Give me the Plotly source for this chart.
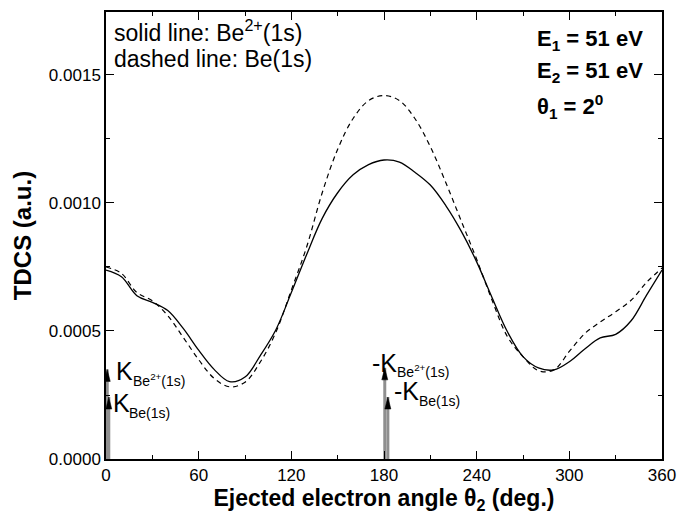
import plotly.graph_objects as go

theta = list(range(0, 361, 10))
tdcs_be2 = [0.000738, 0.000712, 0.000638, 0.000612, 0.000580, 0.000510, 0.000425, 0.000350, 0.000302, 0.000320,
            0.000405, 0.000505, 0.000650, 0.000800, 0.000940, 0.001040, 0.001110, 0.001150, 0.001168, 0.001160,
            0.001120, 0.001070, 0.000990, 0.000890, 0.000770, 0.000630, 0.000496, 0.000400, 0.000356, 0.000348,
            0.000380, 0.000430, 0.000473, 0.000487, 0.000540, 0.000640, 0.000738]
tdcs_be = [0.000750, 0.000725, 0.000650, 0.000618, 0.000560, 0.000475, 0.000388, 0.000315, 0.000282, 0.000300,
           0.000380, 0.000495, 0.000660, 0.000830, 0.001040, 0.001210, 0.001330, 0.001400, 0.001420, 0.001400,
           0.001330, 0.001220, 0.001080, 0.000930, 0.000780, 0.000620, 0.000477, 0.000400, 0.000345, 0.000348,
           0.000420, 0.000490, 0.000535, 0.000575, 0.000620, 0.000690, 0.000746]

# momentum-direction arrows (angle in deg., tip height in a.u.)
arrow_x = [0.8, 1.8, 180.5, 182.5]
arrow_h = [0.000350, 0.000242, 0.000356, 0.000242]

font = "Liberation Sans, Arial, sans-serif"

fig = go.Figure()
fig.add_trace(go.Scatter(x=theta, y=tdcs_be2, mode="lines",
                         line=dict(color="black", width=1.3, shape="spline", smoothing=1.0),
                         showlegend=False))
fig.add_trace(go.Scatter(x=theta, y=tdcs_be, mode="lines",
                         line=dict(color="black", width=1.2, dash="5px,4px", shape="spline", smoothing=1.0),
                         showlegend=False))

shapes = []
for xv, hv in zip(arrow_x, arrow_h):
    fig.add_trace(go.Scatter(x=[xv, xv], y=[0, hv], mode="lines",
                             line=dict(color="#8f8f8f", width=3), showlegend=False, hoverinfo="skip"))
    shapes.append(dict(type="path", xref="x", yref="y", xsizemode="pixel", ysizemode="pixel",
                       xanchor=xv, yanchor=hv, path="M -3,-12 L 0,0 L 3,-12 Z",
                       fillcolor="black", line=dict(color="black", width=0.5), layer="above"))

ann = []
def txt(x, y, t, size=22, bold=False, xanchor="left"):
    if bold:
        t = "<b>" + t + "</b>"
    ann.append(dict(x=x, y=y, xref="x", yref="y", text=t, showarrow=False,
                    xanchor=xanchor, yanchor="middle", font=dict(family=font, size=size, color="black")))

txt(4.0, 0.001672, "solid line: Be<sup>2+</sup>(1s)", size=23)
txt(4.0, 0.001563, "dashed line: Be(1s)", size=23)
txt(277.5, 0.001637, "E<sub>1</sub> = 51 eV", size=22, bold=True)
txt(277.5, 0.001510, "E<sub>2</sub> = 51 eV", size=22, bold=True)
txt(277.5, 0.001377, "θ<sub>1</sub> = 2<sup>0</sup>", size=22, bold=True)

# momentum labels: big K + small subscript text
txt(5.0, 0.000344, "K", size=25)
txt(16.5, 0.000309, "Be<sup>2+</sup>(1s)", size=14)
txt(3.2, 0.000217, "K", size=25)
txt(13.8, 0.000178, "Be(1s)", size=14)
txt(171.0, 0.000375, "-K", size=25)
txt(187.2, 0.000342, "Be<sup>2+</sup>(1s)", size=14)
txt(185.2, 0.000264, "-K", size=25)
txt(201.4, 0.000225, "Be(1s)", size=14)

axis_common = dict(showline=True, linecolor="black", linewidth=1.5, mirror="allticks",
                   ticks="inside", ticklen=8, tickwidth=1.2, tickcolor="black",
                   showgrid=False, zeroline=False, automargin=False,
                   tickfont=dict(family=font, size=17, color="black"))

fig.update_layout(
    width=681, height=523,
    margin=dict(l=106, r=19, t=12, b=64),
    paper_bgcolor="white", plot_bgcolor="white",
    annotations=ann, shapes=shapes,
    xaxis=dict(range=[0, 360], tick0=0, dtick=60,
               minor=dict(ticks="inside", ticklen=4, dtick=30, tickcolor="black", tickwidth=1.2),
               title=dict(text="<b>Ejected electron angle θ<sub>2</sub> (deg.)</b>",
                          font=dict(family=font, size=23, color="black"), standoff=2),
               **axis_common),
    yaxis=dict(range=[0, 0.001746], tick0=0, dtick=0.0005, tickformat=".4f",
               minor=dict(ticks="inside", ticklen=4, dtick=0.00025, tickcolor="black", tickwidth=1.2),
               title=dict(text="<b>TDCS (a.u.)</b>",
                          font=dict(family=font, size=24, color="black"), standoff=10),
               **axis_common),
)

fig.write_html("out.html", config={"displayModeBar": False},
               post_script="document.body.style.margin='0px';document.body.style.overflow='hidden';")
